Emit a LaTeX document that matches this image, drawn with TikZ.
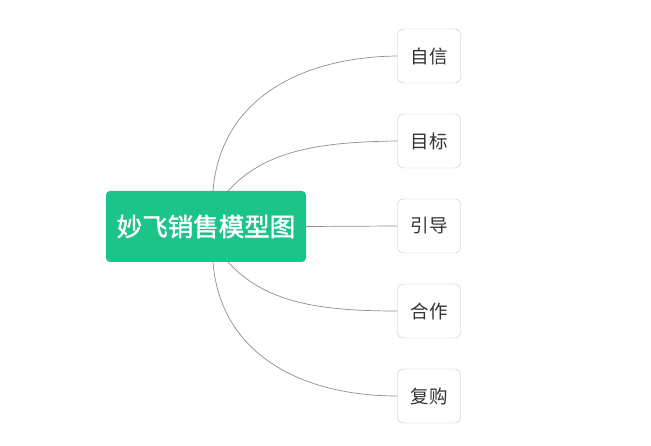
\documentclass[tikz,border=0pt]{standalone}
\usepackage{fontspec}
\setmainfont{Noto Sans CJK SC}
\newfontfamily\hubfont{Noto Sans CJK SC}[FakeBold=1.6]
\definecolor{hubgreen}{HTML}{1DC489}
\definecolor{boxgray}{HTML}{C4C4C4}
\definecolor{linegray}{HTML}{8E8E8E}
\definecolor{textgray}{HTML}{333333}
\begin{document}
\begin{tikzpicture}[x=1pt,y=-1pt,
    hub/.style={fill=hubgreen,rounded corners=4pt,text=white,minimum width=200pt,minimum height=71pt,inner sep=0pt,font=\fontsize{25.5}{30}\hubfont},
    leaf/.style={draw=boxgray,fill=white,rounded corners=6pt,minimum width=63pt,minimum height=54pt,inner sep=0pt,text=textgray,font=\fontsize{18.5}{22}\selectfont},
    link/.style={draw=linegray,line width=0.7pt}]
  \useasboundingbox (0,0) rectangle (651,446);
  \node[hub] (hub) at (206,226.5) {妙飞销售模型图};
  \node[leaf] (zixin) at (429,56) {自信};
  \node[leaf] (mubiao) at (429,141) {目标};
  \node[leaf] (yindao) at (429,226) {引导};
  \node[leaf] (hezuo) at (429,311) {合作};
  \node[leaf] (fugou) at (429,396) {复购};
  \coordinate (t1) at (213,191);
  \coordinate (t2) at (228,191);
  \coordinate (b1) at (213,262);
  \coordinate (b2) at (228,262);
  \draw[link] (t1) .. controls (220,100) and (300,57) .. (zixin.west);
  \draw[link] (t2) .. controls (265,150) and (320,142) .. (mubiao.west);
  \draw[link] (hub.east) -- (yindao.west);
  \draw[link] (b2) .. controls (265,303) and (320,311) .. (hezuo.west);
  \draw[link] (b1) .. controls (220,353) and (300,396) .. (fugou.west);
\end{tikzpicture}
\end{document}
